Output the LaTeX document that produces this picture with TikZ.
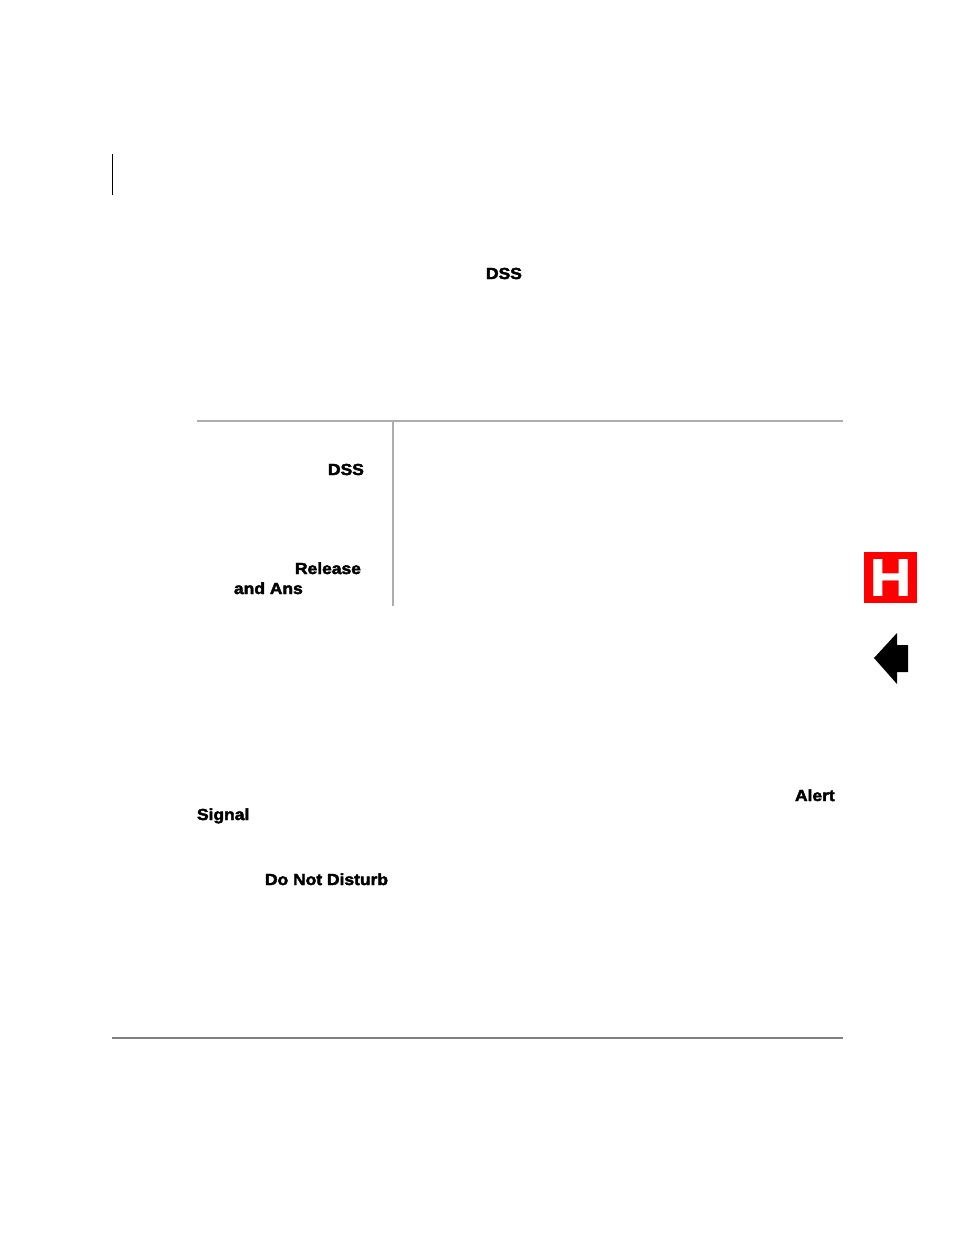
\documentclass[tikz,border=0pt]{standalone}
\usepackage{fontspec}
\usepackage{xcolor}
\setmainfont{Liberation Sans}[BoldFeatures={FakeBold=2.6,FakeStretch=1.09}]
\newfontfamily\tabfont{Liberation Sans Bold}[FakeBold=1.6,FakeStretch=1.1]
\usetikzlibrary{positioning}
\definecolor{rulegray}{gray}{0.68}
\definecolor{footgray}{gray}{0.5}
\tikzstyle{keyword} = [inner sep=0pt, outer sep=0pt, anchor=base west, font=\fontsize{12}{14}\selectfont\bfseries]
\tikzstyle{tablerule} = [draw=rulegray, line width=1.5pt]
\tikzstyle{footrule} = [draw=footgray, line width=1.3pt]
\tikzstyle{changebar} = [draw=black, line width=0.9pt]
\tikzstyle{tab} = [fill=red, draw=none, minimum width=39.75pt, minimum height=38.25pt, inner sep=0pt, text=white, font=\fontsize{39}{39}\selectfont\tabfont]

\begin{document}
\begin{tikzpicture}[x=0.75pt, y=-0.75pt]
      \useasboundingbox (0,0) rectangle (954,1235);
      % rules
      \draw[changebar] (112.5,154) -- (112.5,195);
      \draw[tablerule] (197,421) -- (843,421);
      \draw[tablerule] (393,421) -- (393,606);
      \draw[footrule] (112,1038) -- (843,1038);
      % bold words
      \node (dsstext) [keyword] at (486,279) {DSS};
      \node (dsscell) [keyword] at (328,475) {DSS};
      \node (release) [keyword] at (295,574) {Release};
      \node (andans) [keyword] at (234,594) {and Ans};
      \node (alert) [keyword] at (795,801) {Alert};
      \node (signal) [keyword] at (197,820) {Signal};
      \node (dnd) [keyword] at (265,885) {Do Not Disturb};
      % side tab
      \node (tabh) [tab] at (890.5,577.5) {H};
      \fill[black] (874,658) -- (897,633) -- (897,645) -- (908,645) -- (908,672) -- (897,672) -- (897,684) -- cycle;
    \end{tikzpicture}
\end{document}
